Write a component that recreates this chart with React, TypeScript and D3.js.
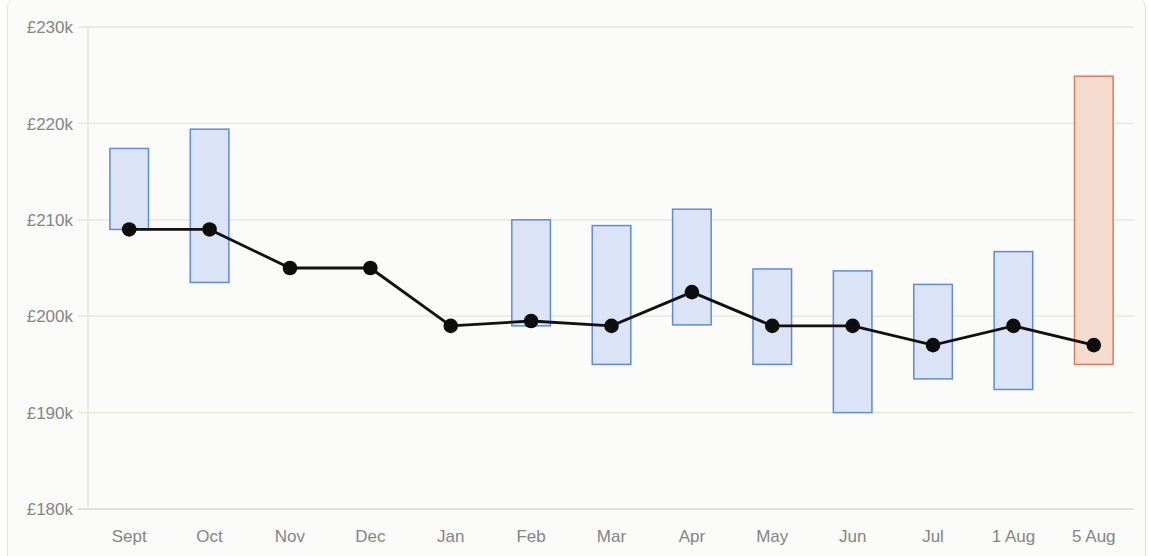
import React, { useEffect } from 'react';
import * as d3 from 'd3';

const months = ['Sept', 'Oct', 'Nov', 'Dec', 'Jan', 'Feb', 'Mar', 'Apr', 'May', 'Jun', 'Jul', '1 Aug', '5 Aug'];
// range boxes (low/high) in £k, null where no box is shown
const rangeLow = [209, 203.5, null, null, null, 199, 195, 199.1, 195, 190, 193.5, 192.4, 195];
const rangeHigh = [217.4, 219.4, null, null, null, 210, 209.4, 211.1, 204.9, 204.7, 203.3, 206.7, 224.9];
const price = [209, 209, 205, 205, 199, 199.5, 199, 202.5, 199, 199, 197, 199, 197];
const yTicks = [180, 190, 200, 210, 220, 230];

const W = 1149;
const H = 556;
const margin = { top: 27, right: 15, bottom: 47, left: 88 };

export default function App() {
  useEffect(() => {
    document.body.style.margin = '0';
  }, []);

  const x = d3.scaleBand<string>()
    .domain(months)
    .range([margin.left + 1, W - margin.right])
    .paddingInner(0.52)
    .paddingOuter(0.26);

  const y = d3.scaleLinear()
    .domain([180, 230])
    .range([H - margin.bottom, margin.top]);

  const cx = (m: string) => x(m)! + x.bandwidth() / 2;

  const line = d3.line<number>()
    .x((_, i) => cx(months[i]))
    .y(d => y(d));

  const last = months.length - 1;

  return (
    <svg width={W} height={H} style={{ display: 'block', fontFamily: '"Liberation Sans", Arial, sans-serif' }}>
      <rect x={7.5} y={-4} width={1138} height={575} rx={12} fill="#fbfbf9" stroke="#e4e4df" />
      {yTicks.map(t => (
        <g key={t}>
          <line x1={margin.left - 10} x2={W - margin.right} y1={y(t)} y2={y(t)}
            stroke={t === 180 ? '#d6d6d0' : '#e6e6dc'} strokeWidth={1.3} />
          <text x={margin.left - 15} y={y(t)} dy="0.36em" textAnchor="end" fontSize={17} fill="#858585">
            £{t}k
          </text>
        </g>
      ))}
      <line x1={margin.left} x2={margin.left} y1={margin.top} y2={H - margin.bottom} stroke="#e2e2da" strokeWidth={1.3} />
      {months.map((m, i) => {
        const lo = rangeLow[i];
        const hi = rangeHigh[i];
        if (lo == null || hi == null) return null;
        const orange = i === last;
        return (
          <rect key={m} x={x(m)} y={y(hi)} width={x.bandwidth()} height={y(lo) - y(hi)}
            fill={orange ? '#f6dccf' : '#dbe4f6'}
            stroke={orange ? '#e07a5a' : '#5f8bd8'} strokeWidth={1.5} />
        );
      })}
      <path d={line(price)!} fill="none" stroke="#111" strokeWidth={2.8} />
      {price.map((v, i) => (
        <circle key={i} cx={cx(months[i])} cy={y(v)} r={7.3} fill="#0d0d0d" />
      ))}
      {months.map(m => (
        <text key={m} x={cx(m)} y={H - margin.bottom + 33} textAnchor="middle" fontSize={17} fill="#858585">
          {m}
        </text>
      ))}
    </svg>
  );
}
